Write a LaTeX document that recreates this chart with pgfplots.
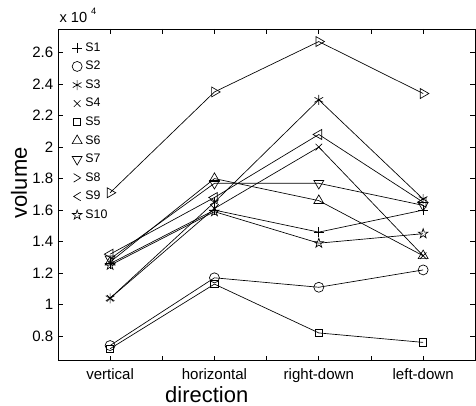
\documentclass[border=0pt]{standalone}
\usepackage{fontspec}
\setmainfont{Liberation Sans}
\usepackage{pgfplots}
\pgfplotsset{compat=1.18}
\usetikzlibrary{plotmarks}

\pgfdeclareplotmark{pentagram}{%
  \pgfpathmoveto{\pgfpointpolar{90}{\pgfplotmarksize}}%
  \pgfpathlineto{\pgfpointpolar{126}{0.382\pgfplotmarksize}}%
  \pgfpathlineto{\pgfpointpolar{162}{\pgfplotmarksize}}%
  \pgfpathlineto{\pgfpointpolar{198}{0.382\pgfplotmarksize}}%
  \pgfpathlineto{\pgfpointpolar{234}{\pgfplotmarksize}}%
  \pgfpathlineto{\pgfpointpolar{270}{0.382\pgfplotmarksize}}%
  \pgfpathlineto{\pgfpointpolar{306}{\pgfplotmarksize}}%
  \pgfpathlineto{\pgfpointpolar{342}{0.382\pgfplotmarksize}}%
  \pgfpathlineto{\pgfpointpolar{18}{\pgfplotmarksize}}%
  \pgfpathlineto{\pgfpointpolar{54}{0.382\pgfplotmarksize}}%
  \pgfpathclose\pgfusepathqstroke}
\pgfdeclareplotmark{chevright}{%
  \pgfpathmoveto{\pgfpoint{-0.7\pgfplotmarksize}{0.85\pgfplotmarksize}}%
  \pgfpathlineto{\pgfpoint{0.7\pgfplotmarksize}{0pt}}%
  \pgfpathlineto{\pgfpoint{-0.7\pgfplotmarksize}{-0.85\pgfplotmarksize}}%
  \pgfusepathqstroke}
\pgfdeclareplotmark{chevleft}{%
  \pgfpathmoveto{\pgfpoint{0.7\pgfplotmarksize}{0.85\pgfplotmarksize}}%
  \pgfpathlineto{\pgfpoint{-0.7\pgfplotmarksize}{0pt}}%
  \pgfpathlineto{\pgfpoint{0.7\pgfplotmarksize}{-0.85\pgfplotmarksize}}%
  \pgfusepathqstroke}

\pgfplotstableread{
x S1 S2 S3 S4 S5 S6 S7 S8 S9 S10
1 1.26 0.74 1.04 1.04 0.72 1.27 1.29 1.71 1.32 1.25
2 1.60 1.17 1.65 1.61 1.13 1.80 1.77 2.35 1.68 1.59
3 1.46 1.11 2.30 2.00 0.82 1.66 1.77 2.67 2.08 1.39
4 1.60 1.22 1.67 1.31 0.76 1.31 1.63 2.34 1.65 1.45
}\data

\begin{document}
\begin{tikzpicture}
\begin{axis}[
  at={(0pt,0pt)}, anchor=south west,
  scale only axis, width=313.5pt, height=249pt,
  xmin=0.5, xmax=4.5, ymin=0.645, ymax=2.75,
  xtick={1,2,3,4},
  xticklabels={vertical,horizontal,right-down,left-down},
  minor xtick={1.5,2.5,3.5},
  ytick={0.8,1,1.2,1.4,1.6,1.8,2,2.2,2.4,2.6},
  yticklabels={0.8,1,1.2,1.4,1.6,1.8,2,2.2,2.4,2.6},
  tick align=inside,
  major tick length=3.75pt, minor tick length=3.75pt,
  tick style={black, line width=0.5pt},
  axis line style={black, line width=0.6pt},
  /pgf/number format/assume math mode=true,
  tick label style={font=\fontsize{11.3}{13}\selectfont},
  xticklabel style={yshift=-2.5pt},
  xlabel={direction}, ylabel={volume},
  every axis x label/.style={at={(axis description cs:0.3565,-0.1024)}, anchor=center, font=\fontsize{16.5}{18}\selectfont},
  every axis y label/.style={at={(axis description cs:-0.0933,0.536)}, rotate=90, anchor=center, font=\fontsize{16.5}{18}\selectfont},
  every axis plot/.append style={black, line width=0.5pt, mark options={solid, line width=0.5pt}},
  legend image code/.code={\draw[#1] plot coordinates {(0.15cm,0cm)};},
  legend style={at={(axis description cs:0,1)}, anchor=north west,
    xshift=10.5pt, yshift=-9.5pt,
    draw=none, fill=none, inner sep=0pt,
    font=\fontsize{9.3}{10}\selectfont,
    nodes={inner sep=0pt, text height=7pt, text depth=2pt},
    row sep=4.95pt, column sep=2.5pt},
  legend cell align=left,
  clip=false,
]
\addplot[mark=+, mark size=3.75pt] table[x=x,y=S1]{\data};
\addplot[mark=o, mark size=3.75pt] table[x=x,y=S2]{\data};
\addplot[mark=asterisk, mark size=3.75pt] table[x=x,y=S3]{\data};
\addplot[mark=x, mark size=3.5pt] table[x=x,y=S4]{\data};
\addplot[mark=square, mark size=2.75pt] table[x=x,y=S5]{\data};
\addplot[mark=triangle, mark size=4.3pt] table[x=x,y=S6]{\data};
\addplot[mark=triangle, mark size=4.3pt, mark options={rotate=180}] table[x=x,y=S7]{\data};
\addplot[mark=triangle, mark size=4.3pt, mark options={rotate=-90},
  legend image code/.code={\draw[black, line width=0.5pt, every mark/.style={}, mark=chevright, mark size=3.75pt] plot coordinates {(0.15cm,0cm)};}] table[x=x,y=S8]{\data};
\addplot[mark=triangle, mark size=4.3pt, mark options={rotate=90},
  legend image code/.code={\draw[black, line width=0.5pt, every mark/.style={}, mark=chevleft, mark size=3.75pt] plot coordinates {(0.15cm,0cm)};}] table[x=x,y=S9]{\data};
\addplot[mark=pentagram, mark size=3.75pt] table[x=x,y=S10]{\data};
\legend{S1,S2,S3,S4,S5,S6,S7,S8,S9,S10}
\end{axis}
\node[anchor=base west, font=\fontsize{11}{12}\selectfont, inner sep=0pt] at (1pt,254pt) {x 10\kern3pt\raisebox{5.5pt}{\fontsize{7}{8}\selectfont 4}};
\pgfresetboundingbox
\path[use as bounding box] (-43.5pt,-33.75pt) rectangle (314pt,270.75pt);
\end{tikzpicture}
\end{document}
